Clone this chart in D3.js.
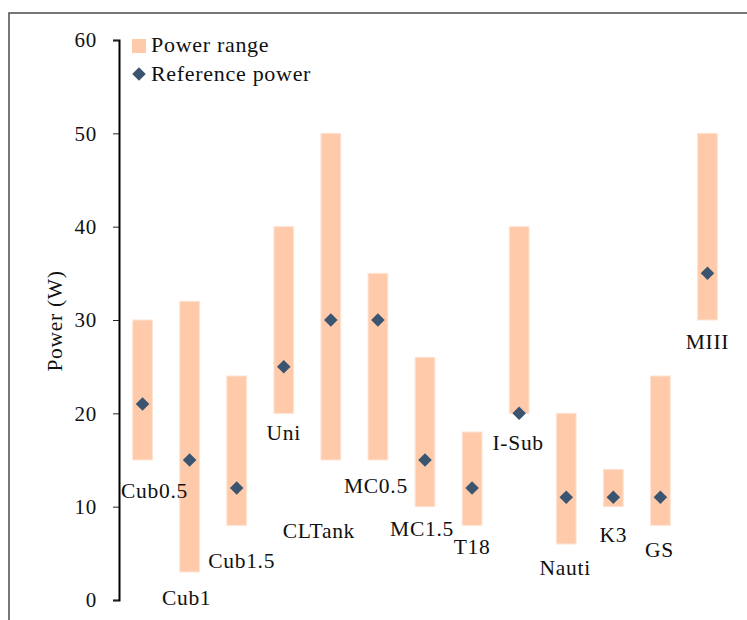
<!DOCTYPE html>
<html>
<head>
<meta charset="utf-8">
<script src="https://cdn.jsdelivr.net/npm/d3@7"></script>
<style>
  body { margin: 0; background: #fff; }
  text { font-family: "Liberation Serif", "Times New Roman", serif; fill: #111; letter-spacing: 0.7px; }
</style>
</head>
<body>
<div id="chart"></div>
<script>
// chart data
var names = ['Cub0.5', 'Cub1', 'Cub1.5', 'Uni', 'CLTank', 'MC0.5', 'MC1.5', 'T18', 'I-Sub', 'Nauti', 'K3', 'GS', 'MIII'];
var minPower = [15, 3, 8, 20, 15, 15, 10, 8, 20, 6, 10, 8, 30];
var maxPower = [30, 32, 24, 40, 50, 35, 26, 18, 40, 20, 14, 24, 50];
var refPower = [21, 15, 12, 25, 30, 30, 15, 12, 20, 11, 11, 11, 35];
var yTicks = [0, 10, 20, 30, 40, 50, 60];

// where each name label sits: [x shift px, baseline in W]
var labelPos = [[12, 10.9], [-3, -0.55], [5, 3.45], [0, 17.1], [-12, 6.65], [-2, 11.45],
                [-3, 6.85], [0, 4.95], [-1, 16.05], [-1, 2.7], [0, 6.2], [-1, 4.6], [0, 26.9]];

var width = 747, height = 620;
var rangeColor = '#ffcaa9', refColor = '#3b5470';

var svg = d3.select('#chart').append('svg')
  .attr('width', width)
  .attr('height', height);

// outer frame (runs off the right and bottom of the picture)
svg.append('rect')
  .attr('x', 9).attr('y', 13)
  .attr('width', 760).attr('height', 640)
  .attr('fill', 'none')
  .attr('stroke', '#555')
  .attr('stroke-width', 1.6);

var x = d3.scaleBand()
  .domain(names)
  .range([119, 731])
  .paddingInner(0.58)
  .paddingOuter(0.29);

var y = d3.scaleLinear()
  .domain([0, 60])
  .range([600, 40]);

var rows = names.map(function(n, i) {
  return {name: n, lo: minPower[i], hi: maxPower[i], ref: refPower[i], lab: labelPos[i]};
});

// range bars
svg.selectAll('.range').data(rows).enter().append('rect')
  .attr('class', 'range')
  .attr('x', function(d) { return x(d.name); })
  .attr('width', x.bandwidth())
  .attr('y', function(d) { return y(d.hi); })
  .attr('height', function(d) { return y(d.lo) - y(d.hi); })
  .attr('fill', rangeColor)
  .attr('stroke', '#fde4d4')
  .attr('stroke-width', 1);

// reference diamonds
var diamond = d3.symbol().type(d3.symbolSquare).size(92);
svg.selectAll('.ref').data(rows).enter().append('path')
  .attr('class', 'ref')
  .attr('d', diamond)
  .attr('transform', function(d) {
    return 'translate(' + (x(d.name) + x.bandwidth() / 2) + ',' + y(d.ref) + ') rotate(45)';
  })
  .attr('fill', refColor);

// name labels
svg.selectAll('.lab').data(rows).enter().append('text')
  .attr('class', 'lab')
  .attr('x', function(d) { return x(d.name) + x.bandwidth() / 2 + d.lab[0]; })
  .attr('y', function(d) { return y(d.lab[1]); })
  .attr('text-anchor', 'middle')
  .style('font-size', '21.5px')
  .text(function(d) { return d.name; });

// y axis
var yAxis = d3.axisLeft(y)
  .tickValues(yTicks)
  .tickSize(6)
  .tickPadding(16);

var gy = svg.append('g')
  .attr('transform', 'translate(119,0)')
  .call(yAxis);
gy.select('.domain').attr('stroke', '#000').attr('stroke-width', 2);
gy.selectAll('.tick line').attr('stroke', '#222').attr('stroke-width', 1);
gy.selectAll('.tick text')
  .style('font-size', '21px')
  .style('font-family', '"Liberation Serif", serif')
  .attr('fill', '#111');

svg.append('text')
  .attr('transform', 'translate(62,321) rotate(-90)')
  .attr('text-anchor', 'middle')
  .style('font-size', '21.5px')
  .text('Power (W)');

// legend
var legend = svg.append('g');
legend.append('rect')
  .attr('x', 132).attr('y', 39)
  .attr('width', 14).attr('height', 14)
  .attr('fill', rangeColor);
legend.append('text')
  .attr('x', 151).attr('y', 52)
  .style('font-size', '22px')
  .text('Power range');
legend.append('path')
  .attr('d', diamond)
  .attr('transform', 'translate(139,74) rotate(45)')
  .attr('fill', refColor);
legend.append('text')
  .attr('x', 151).attr('y', 81)
  .style('font-size', '22px')
  .text('Reference power');
</script>
</body>
</html>
